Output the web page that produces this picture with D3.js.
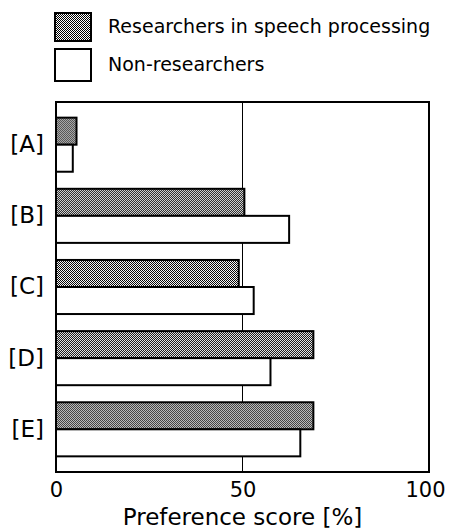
<!DOCTYPE html>
<html>
<head>
<meta charset="utf-8">
<script src="https://cdn.jsdelivr.net/npm/d3@7"></script>
<style>
  body { margin: 0; background: #fff; }
  text { font-family: "DejaVu Sans", sans-serif; fill: #000; }
</style>
</head>
<body>
<div id="canvas"></div>
<script>
const categories = ["[A]", "[B]", "[C]", "[D]", "[E]"];
const seriesNames = ["Researchers in speech processing", "Non-researchers"];
const researchers = [5.5, 50.5, 49, 69, 69];
const nonResearchers = [4.5, 62.5, 53, 57.5, 65.5];
const xTicks = [0, 50, 100];

const width = 450;
const height = 532;
const margin = { top: 102, left: 56, bottom: 60, right: 21 };
const iwidth = width - margin.left - margin.right;
const iheight = height - margin.top - margin.bottom;

const svg = d3.select("#canvas").append("svg")
  .attr("width", width)
  .attr("height", height);

// stipple pattern for the shaded bars
const defs = svg.append("defs");
const pat = defs.append("pattern")
  .attr("id", "stipple")
  .attr("width", 2).attr("height", 2)
  .attr("patternUnits", "userSpaceOnUse");
pat.append("rect").attr("width", 2).attr("height", 2).attr("fill", "#fff");
pat.append("rect").attr("x", 0).attr("y", 0).attr("width", 1).attr("height", 1).attr("fill", "#000");
pat.append("rect").attr("x", 1).attr("y", 1).attr("width", 1).attr("height", 1).attr("fill", "#000");

const fills = ["url(#stipple)", "#fff"];

const g = svg.append("g")
  .attr("transform", `translate(${margin.left},${margin.top})`);

const x = d3.scaleLinear().domain([0, 100]).range([0, iwidth]);
const y = d3.scaleBand().domain(categories).range([0, iheight])
  .paddingInner(0.24).paddingOuter(0.22);
const ySub = d3.scaleBand().domain([0, 1]).range([0, y.bandwidth()]);

// 50% reference line
g.append("line")
  .attr("x1", x(50)).attr("x2", x(50))
  .attr("y1", 0).attr("y2", iheight)
  .attr("stroke", "#000").attr("stroke-width", 1);

const rows = categories.map((c, i) => ({ cat: c, vals: [researchers[i], nonResearchers[i]] }));

const grp = g.selectAll("g.row").data(rows).enter().append("g")
  .attr("class", "row")
  .attr("transform", d => `translate(0,${y(d.cat)})`);

grp.selectAll("rect")
  .data(d => d.vals.map((v, k) => ({ v, k })))
  .enter().append("rect")
  .attr("x", x(0))
  .attr("y", d => ySub(d.k))
  .attr("width", d => x(d.v) - x(0))
  .attr("height", ySub.bandwidth())
  .attr("fill", d => fills[d.k])
  .attr("stroke", "#000")
  .attr("stroke-width", 2);

// frame
g.append("rect")
  .attr("width", iwidth).attr("height", iheight)
  .attr("fill", "none").attr("stroke", "#000").attr("stroke-width", 2);

// x axis
const xAxis = g.append("g")
  .attr("transform", `translate(0,${iheight})`)
  .call(d3.axisBottom(x).tickValues(xTicks).tickSize(0).tickPadding(10));
xAxis.select(".domain").remove();
xAxis.selectAll("text").style("font-size", "21px").attr("fill", "#000")
  .attr("font-family", "DejaVu Sans");
xAxis.selectAll(".tick:last-of-type text").attr("dx", "-4");

g.append("text")
  .attr("x", x(50))
  .attr("y", iheight + 53)
  .attr("text-anchor", "middle")
  .style("font-size", "23px")
  .text("Preference score [%]");

// y axis labels
const yAxis = g.append("g")
  .call(d3.axisLeft(y).tickSize(0).tickPadding(12));
yAxis.select(".domain").remove();
yAxis.selectAll("text").style("font-size", "23px").attr("fill", "#000")
  .attr("font-family", "DejaVu Sans");

// legend
const legend = svg.append("g").attr("transform", "translate(55,13)");
const li = legend.selectAll("g").data(seriesNames).enter().append("g")
  .attr("transform", (d, i) => `translate(0,${i * 36})`);
li.append("rect")
  .attr("width", 36).attr("height", (d, i) => i ? 32 : 28)
  .attr("fill", (d, i) => fills[i])
  .attr("stroke", "#000").attr("stroke-width", 2);
li.append("text")
  .attr("x", 53).attr("y", (d, i) => i ? 22 : 20)
  .style("font-size", "19px")
  .text(d => d);
</script>
</body>
</html>
